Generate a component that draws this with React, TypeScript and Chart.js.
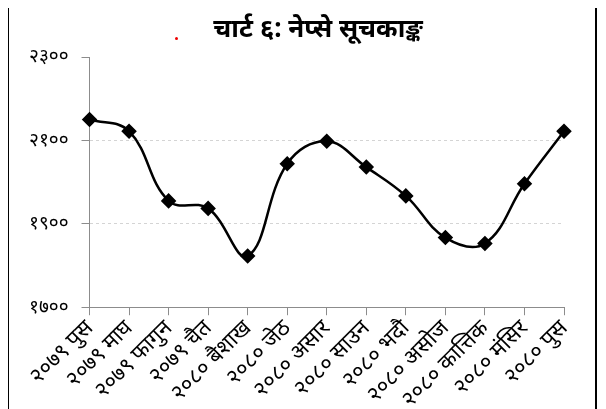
import { useEffect, useRef } from 'react';
import Chart from 'chart.js/auto';

const categories = [
  '२०७९ पुस', '२०७९ माघ', '२०७९ फागुन', '२०७९ चैत', '२०८० बैशाख', '२०८० जेठ',
  '२०८० असार', '२०८० साउन', '२०८० भदौ', '२०८० असोज', '२०८० कात्तिक', '२०८० मंसिर', '२०८० पुस',
];
const nepseValues = [2150, 2122, 1955, 1937, 1823, 2044, 2098, 2036, 1967, 1867, 1853, 1996, 2122];
const yTickValues = [1700, 1900, 2100, 2300];
const yTickLabels = ['१७००', '१९००', '२१००', '२३००'];
const titleText = 'चार्ट ६: नेप्से सूचकाङ्क';

const FONT = "'Noto Sans', 'Noto Sans Devanagari', sans-serif";

export default function App() {
  const ref = useRef<HTMLCanvasElement | null>(null);
  useEffect(() => {
    if (!ref.current) return;
    const titlePlugin = {
      id: 'customTitle',
      afterDraw(chart: any) {
        const c = chart.ctx;
        c.save();
        c.font = `bold 26px ${FONT}`;
        c.fillStyle = '#000';
        c.textAlign = 'center';
        c.textBaseline = 'middle';
        c.fillText(titleText, 310, 22);
        c.restore();
      },
    };
    const chart = new Chart(ref.current, {
      type: 'line',
      data: {
        labels: categories,
        datasets: [
          {
            data: nepseValues,
            borderColor: '#000',
            borderWidth: 2.5,
            tension: 0.4,
            pointStyle: 'rectRot',
            pointRadius: 6,
            pointBackgroundColor: '#000',
            pointBorderColor: '#000',
            clip: false,
          } as any,
        ],
      },
      options: {
        animation: false,
        responsive: true,
        maintainAspectRatio: false,
        layout: { padding: { left: 8, right: 34, top: 49, bottom: -4 } },
        plugins: { legend: { display: false }, tooltip: { enabled: false }, title: { display: false } },
        scales: {
          x: {
            type: 'category',
            offset: false,
            grid: { drawOnChartArea: false, tickLength: 8, tickColor: '#8c8c8c' },
            border: { color: '#8c8c8c', width: 1 },
            ticks: {
              minRotation: 45,
              maxRotation: 45,
              padding: 0,
              color: '#000',
              font: { family: FONT, size: 22 },
              autoSkip: false,
            },
          },
          y: {
            min: 1700,
            max: 2300,
            afterBuildTicks: (axis: any) => {
              axis.ticks = yTickValues.map((v) => ({ value: v }));
            },
            grid: {
              color: (ctx: any) =>
                ctx.tick && (ctx.tick.value === 1900 || ctx.tick.value === 2100) ? '#d4d4d4' : 'rgba(0,0,0,0)',
              tickColor: '#8c8c8c',
              tickLength: 8,
            },
            border: { color: '#8c8c8c', width: 1, dash: [3, 3] },
            ticks: {
              padding: 13,
              color: '#000',
              font: { family: FONT, size: 19 },
              callback: (v: any) => {
                const i = yTickValues.indexOf(Number(v));
                return i >= 0 ? yTickLabels[i] : '';
              },
            },
          },
        },
      },
      plugins: [titlePlugin],
    });
    return () => chart.destroy();
  }, []);

  return (
    <div style={{ position: 'relative', width: 590, height: 401, overflow: 'hidden' }}>
      <div
        style={{
          position: 'absolute', left: -1, top: 0, width: 586, height: 401,
          borderLeft: '2px solid #000', borderRight: '2px solid #000',
        }}
      />
      <div style={{ position: 'absolute', left: 167, top: 29, width: 3, height: 3, borderRadius: 2, background: '#e00' }} />
      <div style={{ position: 'absolute', left: 0, top: 0, width: 590, height: 401 }}>
        <canvas ref={ref} />
      </div>
    </div>
  );
}
